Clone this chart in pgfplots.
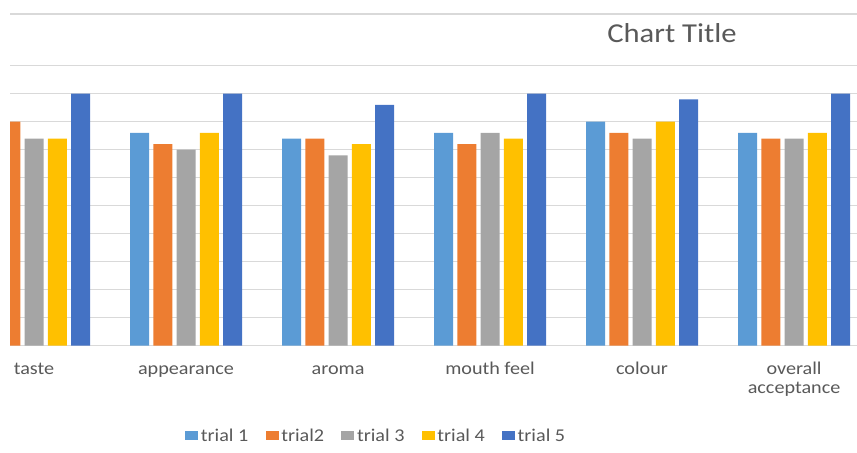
\documentclass[border=0pt]{standalone}
\usepackage{pgfplots}
\pgfplotsset{compat=1.18}
\usepackage{pgfplotstable}
\usepackage{fontspec}
\setmainfont{Carlito}[FakeStretch=1.12]
\definecolor{tA}{HTML}{5B9BD5}
\definecolor{tB}{HTML}{ED7D31}
\definecolor{tC}{HTML}{A5A5A5}
\definecolor{tD}{HTML}{FFC000}
\definecolor{tE}{HTML}{4472C4}
\definecolor{gridc}{HTML}{D9D9D9}
\definecolor{txt}{HTML}{595959}
\pgfplotsset{sqleg/.style={legend image code/.code={\fill[##1] (0pt,-3.4pt) rectangle (9.75pt,3.4pt);}}}
\pgfplotstableread{
x t1 t2 t3 t4 t5
0 7.6 8.0 7.4 7.4 9.0
1 7.6 7.2 7.0 7.6 9.0
2 7.4 7.4 6.8 7.2 8.6
3 7.6 7.2 7.6 7.4 9.0
4 8.0 7.6 7.4 8.0 8.8
5 7.6 7.4 7.4 7.6 9.0
}\datatable
\begin{document}
\begin{tikzpicture}
\path[use as bounding box] (0,0) rectangle (642.75pt,339.75pt);
\begin{axis}[
  at={(7.5pt,80.5pt)}, anchor=south west,
  scale only axis, width=635.25pt, height=248.8pt,
  xmin=-0.158, xmax=5.414, ymin=0, ymax=11.85,
  ybar, bar width=0.125,
  axis line style={draw=none},
  major tick length=0pt,
  ytick={0,1,2,3,4,5,6,7,8,9,10,11.85}, yticklabels={},
  ymajorgrids, grid style={gridc, line width=0.9pt},
  xtick={0,1,2,3,4,5},
  xticklabels={\strut taste,\strut appearance,\strut aroma,\strut mouth feel,\strut colour,\strut overall\\acceptance},
  xticklabel style={font=\fontsize{13.5}{14.25}\selectfont, text=txt, align=center, anchor=north, yshift=-7.8pt},
  legend columns=5,
  legend style={at={(0.2066,-0.272)}, anchor=west, draw=none, fill=none,
    font=\fontsize{13.5}{14.5}\selectfont, text=txt, inner sep=0pt,
    nodes={inner sep=2pt},
    /tikz/every even column/.append style={column sep=10.9pt}},
]
\addplot[fill=tA, draw=none, bar shift=-0.306, sqleg] table[x=x,y=t1]{\datatable};
\addplot[fill=tB, draw=none, bar shift=-0.153, sqleg] table[x=x,y=t2]{\datatable};
\addplot[fill=tC, draw=none, bar shift=0, sqleg] table[x=x,y=t3]{\datatable};
\addplot[fill=tD, draw=none, bar shift=0.153, sqleg] table[x=x,y=t4]{\datatable};
\addplot[fill=tE, draw=none, bar shift=0.306, sqleg] table[x=x,y=t5]{\datatable};
\legend{trial 1,trial2,trial 3,trial 4,trial 5}
\end{axis}
\node[font=\fontsize{20.5}{23}\selectfont, text=txt] at (504pt,315pt) {Chart Title};
\end{tikzpicture}
\end{document}
